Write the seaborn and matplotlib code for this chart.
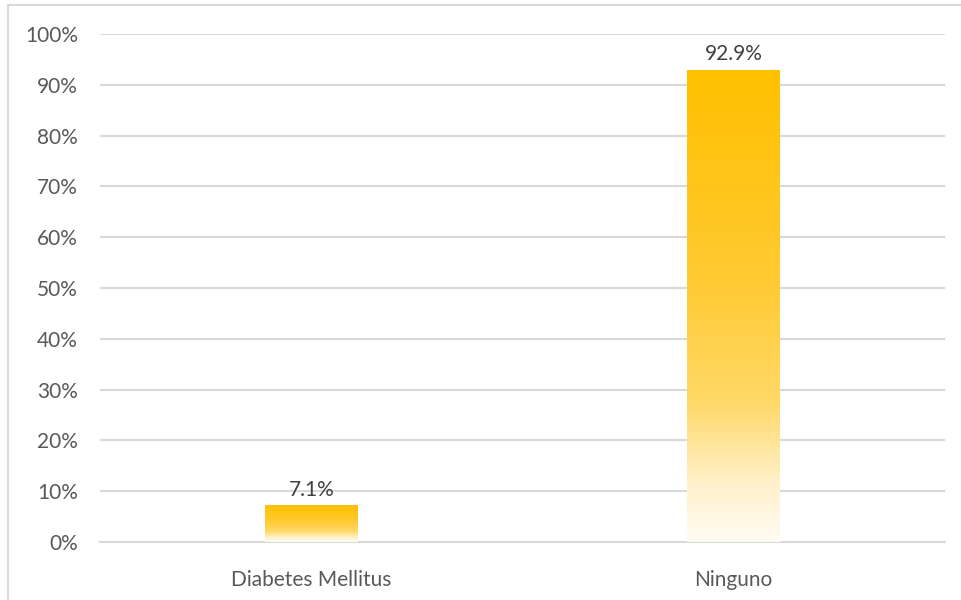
import numpy as np
import pandas as pd
import matplotlib
matplotlib.use("Agg")
import matplotlib.pyplot as plt
from matplotlib.colors import LinearSegmentedColormap
from matplotlib.lines import Line2D
import seaborn as sns

categories = ["Diabetes Mellitus", "Ninguno"]
values = [7.1, 92.9]
labels = ["7.1%", "92.9%"]
yticks = [0, 10, 20, 30, 40, 50, 60, 70, 80, 90, 100]
ytick_labels = [f"{v}%" for v in yticks]

sns.set_theme(style="white")
plt.rcParams["font.family"] = ["Lato", "DejaVu Sans"]

df = pd.DataFrame({"cat": categories, "val": values})

fig = plt.figure(figsize=(9.62, 6.0), dpi=100)
ax = fig.add_axes([100 / 962, 1 - 542 / 600, 845 / 962, 508 / 600])

sns.barplot(data=df, x="cat", y="val", ax=ax, width=0.22, color="#FFC000", zorder=3)
ax.set_ylim(0, 100)
ax.set_xlim(-0.5, 1.5)

cmap = LinearSegmentedColormap.from_list(
    "grad",
    [(0.0, "#FFFCF3"), (0.12, "#FFF1CC"), (0.3, "#FFD866"),
     (0.55, "#FFCA33"), (1.0, "#FFC000")],
)
grad = np.linspace(0, 1, 256).reshape(-1, 1)
for p in ax.patches:
    x0, y0, w, h = p.get_x(), p.get_y(), p.get_width(), p.get_height()
    p.set_visible(False)
    ax.imshow(grad, cmap=cmap, origin="lower", aspect="auto",
              extent=[x0, x0 + w, y0, y0 + h], zorder=3, interpolation="bicubic")
ax.set_xlim(-0.5, 1.5)
ax.set_ylim(0, 100)

for i, (v, t) in enumerate(zip(values, labels)):
    ax.text(i, v + 1.2, t, ha="center", va="bottom", fontsize=15, color="#404040", zorder=4)

ax.set_yticks(yticks)
ax.set_yticklabels(ytick_labels)
ax.yaxis.grid(True, color="#D9D9D9", linewidth=1.5, zorder=0)
ax.set_axisbelow(True)
for s in ["top", "right", "left"]:
    ax.spines[s].set_visible(False)
ax.spines["bottom"].set_color("#D9D9D9")
ax.spines["bottom"].set_linewidth(1.5)
ax.tick_params(axis="both", length=0, labelsize=15, labelcolor="#595959")
ax.tick_params(axis="y", pad=16)
ax.tick_params(axis="x", pad=20)
ax.set_xlabel("")
ax.set_ylabel("")

# outer chart border (left and top visible)
fig.add_artist(Line2D([8 / 962, 8 / 962], [0, 1 - 5 / 600], color="#D9D9D9", lw=1.5, transform=fig.transFigure))
fig.add_artist(Line2D([8 / 962, 1], [1 - 5 / 600, 1 - 5 / 600], color="#D9D9D9", lw=1.5, transform=fig.transFigure))

fig.savefig("out.png", dpi=100)
